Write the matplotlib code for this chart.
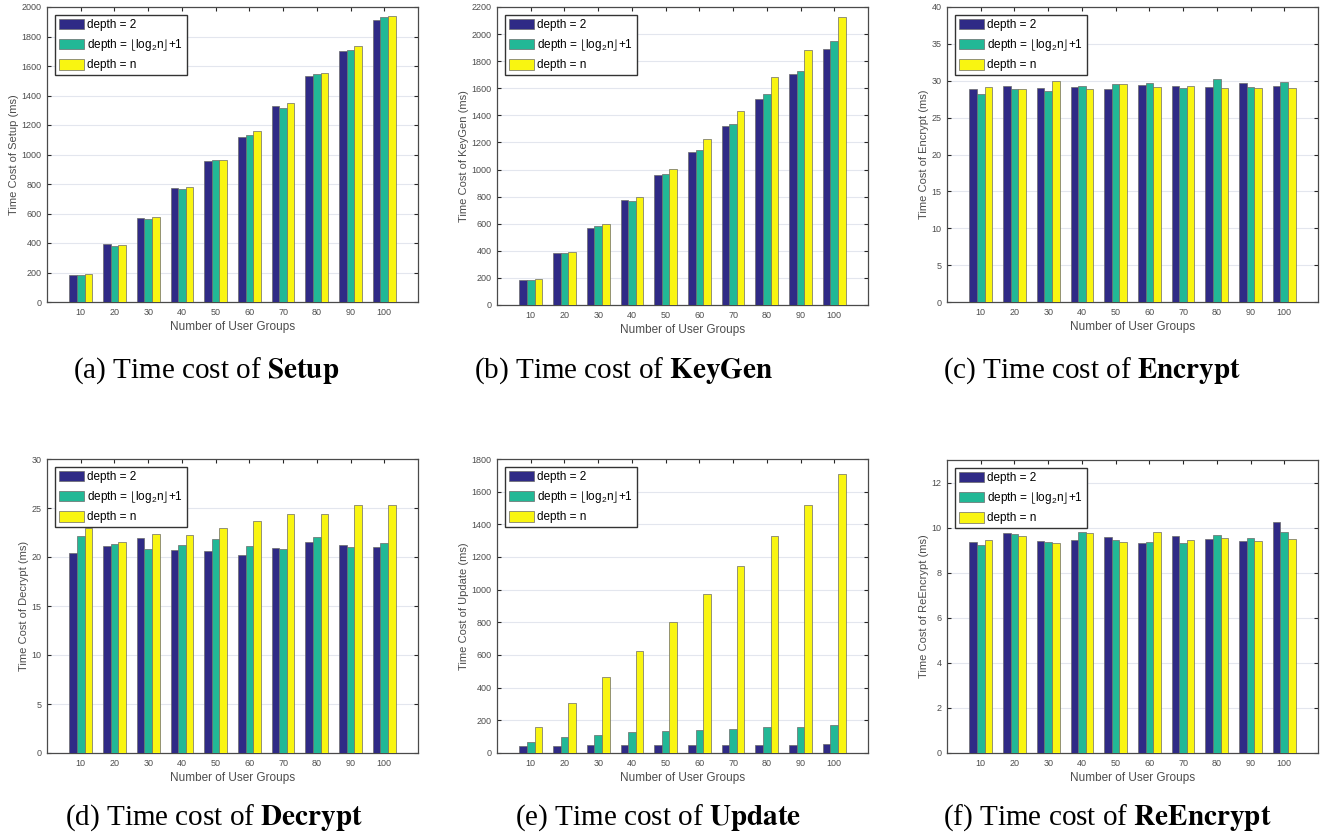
import numpy as np
import matplotlib
matplotlib.use("Agg")
import matplotlib.pyplot as plt

# ── data ──────────────────────────────────────────────────────────────────────
groups = [10, 20, 30, 40, 50, 60, 70, 80, 90, 100]
series_labels = ["depth = 2", r"depth = $\lfloor$log$_2$n$\rfloor$+1", "depth = n"]

setup_d2   = [185, 394, 570, 776, 957, 1122, 1326, 1529, 1704, 1910]
setup_log  = [181, 382, 563, 767, 962, 1131, 1317, 1545, 1708, 1934]
setup_n    = [188, 385, 579, 778, 966, 1156, 1346, 1554, 1733, 1941]

keygen_d2  = [185, 386, 568, 773, 960, 1127, 1321, 1523, 1708, 1892]
keygen_log = [185, 381, 583, 770, 969, 1142, 1334, 1558, 1730, 1949]
keygen_n   = [192, 389, 595, 800, 1006, 1225, 1432, 1681, 1882, 2126]

encrypt_d2  = [28.82, 29.28, 28.96, 29.10, 28.87, 29.41, 29.28, 29.14, 29.73, 29.28]
encrypt_log = [28.14, 28.87, 28.64, 29.32, 29.55, 29.73, 28.96, 30.27, 29.10, 29.77]
encrypt_n   = [29.14, 28.82, 29.91, 28.87, 29.55, 29.19, 29.23, 28.96, 28.96, 28.96]

decrypt_d2  = [20.43, 21.08, 21.93, 20.67, 20.64, 20.19, 20.91, 21.49, 21.25, 20.98]
decrypt_log = [22.14, 21.35, 20.77, 21.22, 21.87, 21.15, 20.77, 22.04, 21.01, 21.42]
decrypt_n   = [22.92, 21.56, 22.38, 22.28, 22.92, 23.71, 24.39, 24.39, 25.28, 25.28]

update_d2  = [41, 45, 49, 49, 49, 49, 51, 51, 51, 53]
update_log = [70, 100, 111, 127, 137, 139, 146, 158, 162, 170]
update_n   = [162, 307, 463, 627, 800, 972, 1146, 1328, 1517, 1706]

reenc_d2  = [9.37, 9.78, 9.40, 9.44, 9.59, 9.30, 9.62, 9.49, 9.40, 10.27]
reenc_log = [9.21, 9.72, 9.37, 9.80, 9.46, 9.37, 9.32, 9.68, 9.55, 9.81]
reenc_n   = [9.47, 9.62, 9.31, 9.74, 9.38, 9.80, 9.46, 9.55, 9.40, 9.50]

# ── style ────────────────────────────────────────────────────────────────────
COLORS = ["#2f2a86", "#22b896", "#f9f511"]
W, H = 1322, 834
plt.rcParams["font.family"] = ["Liberation Sans", "DejaVu Sans"]
plt.rcParams["mathtext.default"] = "regular"

fig = plt.figure(figsize=(W / 100, H / 100), dpi=100)


def px_axes(x0, y0, x1, y1):
    return fig.add_axes([x0 / W, 1 - y1 / H, (x1 - x0) / W, (y1 - y0) / H])


# (rect in pixels, series, y max, y step, ylabel, caption, bold word, caption x, baseline y)
PANELS = [
    ((47, 7, 418, 302), (setup_d2, setup_log, setup_n), 2000, 200,
     "Time Cost of Setup (ms)", "(a) Time cost of ", "Setup", 73, 378),
    ((497, 7, 868, 305), (keygen_d2, keygen_log, keygen_n), 2200, 200,
     "Time Cost of KeyGen (ms)", "(b) Time cost of ", "KeyGen", 474, 378),
    ((947, 7, 1318, 302), (encrypt_d2, encrypt_log, encrypt_n), 40, 5,
     "Time Cost of Encrypt (ms)", "(c) Time cost of ", "Encrypt", 943, 378),
    ((47, 459, 418, 753), (decrypt_d2, decrypt_log, decrypt_n), 30, 5,
     "Time Cost of Decrypt (ms)", "(d) Time cost of ", "Decrypt", 65, 825),
    ((497, 459, 868, 753), (update_d2, update_log, update_n), 1800, 200,
     "Time Cost of Update (ms)", "(e) Time cost of ", "Update", 515, 825),
    ((947, 460, 1318, 753), (reenc_d2, reenc_log, reenc_n), 13, 2,
     "Time Cost of ReEncrypt (ms)", "(f) Time cost of ", "ReEncrypt", 943, 825),
]

BAR_W = 2.25
x = np.array(groups, dtype=float)

for rect, series, ymax, ystep, ylabel, cap, capbold, capx, capy in PANELS:
    ax = px_axes(*rect)
    for i, (vals, col, lab) in enumerate(zip(series, COLORS, series_labels)):
        ax.bar(x + (i - 1) * BAR_W, vals, width=BAR_W, color=col,
               edgecolor="#6a6a6a", linewidth=0.5, label=lab, zorder=3)

    ax.set_xlim(0, 110)
    ax.set_ylim(0, ymax)
    ax.set_xticks(groups)
    ax.set_yticks(np.arange(0, ymax + 0.001, ystep))
    ax.tick_params(direction="in", top=True, right=True, length=3,
                   width=0.8, labelsize=6.5, labelcolor="#4d4d4d",
                   color="#262626", pad=4)
    ax.grid(axis="y", color="#e3e6ee", linewidth=0.8, zorder=0)
    for sp in ax.spines.values():
        sp.set_color("#4a4a4a")
        sp.set_linewidth(0.9)

    ax.set_ylabel(ylabel, fontsize=8, color="#4d4d4d", labelpad=2)
    ax.set_xlabel("Number of User Groups", fontsize=8.5, color="#4d4d4d",
                  labelpad=3)

    leg = ax.legend(loc="upper left", fontsize=8.5, handlelength=2.1,
                    handleheight=1.0, handletextpad=0.3, labelspacing=0.5,
                    borderpad=0.3, borderaxespad=0.7, fancybox=False,
                    framealpha=1)
    leg.get_frame().set_edgecolor("#333333")
    leg.get_frame().set_linewidth(1.0)

    fig.text(capx / W, 1 - capy / H, cap + r"$\mathbf{" + capbold + "}$",
             family="Liberation Serif", math_fontfamily="stix",
             fontsize=21, va="baseline", ha="left")

fig.savefig("out.png", dpi=100)
